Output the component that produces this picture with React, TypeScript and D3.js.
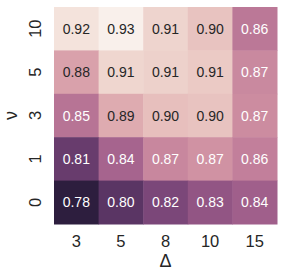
import { useRef, useEffect } from 'react'
import * as d3 from 'd3'

// columns (Δ) and rows (ν, top to bottom)
const deltas = ['3', '5', '8', '10', '15']
const nus = ['10', '5', '3', '1', '0']

// accuracy per row (third decimal estimated from shade)
const row10 = [0.921, 0.929, 0.912, 0.902, 0.856]
const row5 = [0.882, 0.913, 0.910, 0.906, 0.867]
const row3 = [0.853, 0.888, 0.900, 0.902, 0.869]
const row1 = [0.808, 0.842, 0.866, 0.873, 0.861]
const row0 = [0.778, 0.801, 0.818, 0.830, 0.838]
const rows = [row10, row5, row3, row1, row0]

// matplotlib cubehelix, as seaborn's cubehelix_palette uses it
function cubehelix(x: number) {
  const start = 0, rot = 0.4, hue = 0.8
  const a = hue * x * (1 - x) / 2
  const phi = 2 * Math.PI * (start / 3 + rot * x)
  const c = Math.cos(phi), s = Math.sin(phi)
  const r = x + a * (-0.14861 * c + 1.78277 * s)
  const g = x + a * (-0.29227 * c - 0.90649 * s)
  const b = x + a * (1.97294 * c)
  const cl = (v: number) => Math.max(0, Math.min(1, v))
  return [cl(r), cl(g), cl(b)]
}

function luminance(rgb: number[]) {
  const lin = rgb.map(v => (v <= 0.03928 ? v / 12.92 : Math.pow((v + 0.055) / 1.055, 2.4)))
  return 0.2126 * lin[0] + 0.7152 * lin[1] + 0.0722 * lin[2]
}

export default function App() {
  const svgRef = useRef<SVGSVGElement>(null)

  useEffect(() => {
    const w = 284
    const h = 278
    const left = 54, right = 277, top = 7, bottom = 224
    const font = '"Liberation Sans", Arial, sans-serif'

    const svg = d3.select(svgRef.current)
      .attr('width', w)
      .attr('height', h)
    svg.selectAll('*').remove()

    const xScale = d3.scaleBand().domain(deltas).range([left, right])
    const yScale = d3.scaleBand().domain(nus).range([top, bottom])

    const all = rows.flat()
    const t = d3.scaleLinear().domain([d3.min(all)!, d3.max(all)!]).range([0.15, 0.95])

    const cells = rows.flatMap((vals, i) => vals.map((v, j) => ({ nu: nus[i], d: deltas[j], v })))

    const g = svg.append('g')
    g.selectAll('rect')
      .data(cells)
      .join('rect')
        .attr('x', d => xScale(d.d)!)
        .attr('y', d => yScale(d.nu)!)
        .attr('width', xScale.bandwidth() + 0.5)
        .attr('height', yScale.bandwidth() + 0.5)
        .attr('fill', d => {
          const c = cubehelix(t(d.v))
          return d3.rgb(c[0] * 255, c[1] * 255, c[2] * 255).formatHex()
        })

    g.selectAll('text.annot')
      .data(cells)
      .join('text')
        .attr('class', 'annot')
        .attr('x', d => xScale(d.d)! + xScale.bandwidth() / 2)
        .attr('y', d => yScale(d.nu)! + yScale.bandwidth() / 2)
        .attr('dy', '0.36em')
        .attr('text-anchor', 'middle')
        .attr('font-family', font)
        .attr('font-size', 14)
        .attr('fill', d => (luminance(cubehelix(t(d.v))) > 0.408 ? '#262626' : '#ffffff'))
        .text(d => d.v.toFixed(2))

    // x tick labels
    svg.append('g')
      .selectAll('text')
      .data(deltas)
      .join('text')
        .attr('x', d => xScale(d)! + xScale.bandwidth() / 2)
        .attr('y', 247)
        .attr('text-anchor', 'middle')
        .attr('font-family', font)
        .attr('font-size', 16.5)
        .attr('fill', '#262626')
        .text(d => d)

    // y tick labels, rotated
    svg.append('g')
      .selectAll('text')
      .data(nus)
      .join('text')
        .attr('transform', d => `translate(41, ${yScale(d)! + yScale.bandwidth() / 2}) rotate(-90)`)
        .attr('text-anchor', 'middle')
        .attr('font-family', font)
        .attr('font-size', 16.5)
        .attr('fill', '#262626')
        .text(d => d)

    svg.append('text')
      .attr('x', (left + right) / 2)
      .attr('y', 266.5)
      .attr('text-anchor', 'middle')
      .attr('font-family', font)
      .attr('font-size', 18)
      .attr('fill', '#262626')
      .text('Δ')

    svg.append('text')
      .attr('transform', `translate(17, ${(top + bottom) / 2}) rotate(-90)`)
      .attr('text-anchor', 'middle')
      .attr('font-family', font)
      .attr('font-size', 18)
      .attr('fill', '#262626')
      .text('ν')
  }, [])

  return (
    <div style={{ position: 'absolute', left: 0, top: 0 }}>
      <svg ref={svgRef} style={{ display: 'block' }}></svg>
    </div>
  )
}
